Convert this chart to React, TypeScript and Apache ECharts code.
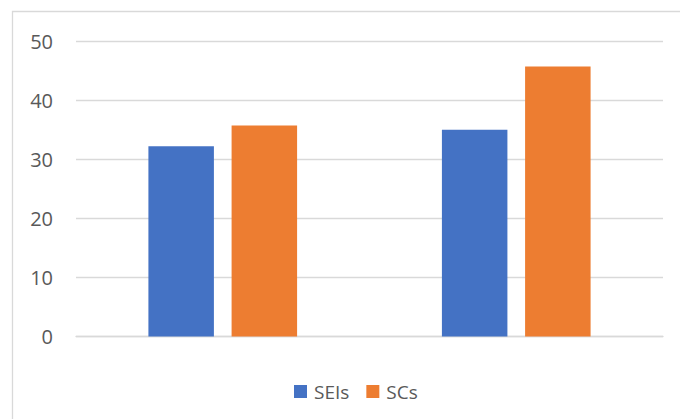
import React, { useEffect, useRef } from "react";
import * as echarts from "echarts";

const categories = ["Group 1", "Group 2"];
const seriesNames = ["SEIs", "SCs"];
const seisValues = [32.2, 35.0];
const scsValues = [35.7, 45.7];
const yTicks = { min: 0, max: 50, interval: 10 };

export default function App() {
  const ref = useRef<HTMLDivElement>(null);
  useEffect(() => {
    if (!ref.current) return;
    const chart = echarts.init(ref.current, undefined, { renderer: "svg" });
    const font = "'Open Sans', 'Noto Sans', sans-serif";
    chart.setOption({
      animation: false,
      backgroundColor: "#ffffff",
      graphic: [
        {
          type: "rect",
          shape: { x: 12.5, y: 11.5, width: 700, height: 450 },
          style: { fill: "none", stroke: "#d9d9d9", lineWidth: 1.3 },
          silent: true,
        },
      ],
      grid: { left: 76, right: 17, top: 41, bottom: 82.5 },
      legend: {
        data: seriesNames,
        left: 289,
        top: 377,
        itemWidth: 13,
        itemHeight: 13,
        itemGap: 17,
        icon: "rect",
        textStyle: { color: "#595959", fontSize: 19, fontFamily: font, padding: [0, 0, 0, 2] },
      },
      xAxis: {
        type: "category",
        data: categories,
        axisLine: { show: true, lineStyle: { color: "#d9d9d9", width: 1.3 } },
        axisTick: { show: false },
        axisLabel: { show: false },
      },
      yAxis: {
        type: "value",
        min: yTicks.min,
        max: yTicks.max,
        interval: yTicks.interval,
        axisLine: { show: false },
        axisTick: { show: false },
        splitLine: { lineStyle: { color: "#d9d9d9", width: 1.3 } },
        axisLabel: { color: "#595959", fontSize: 20, fontFamily: font, margin: 23 },
      },
      series: [
        {
          name: seriesNames[0],
          type: "bar",
          data: seisValues,
          barWidth: 65.5,
          barGap: "27%",
          itemStyle: { color: "#4472c4" },
        },
        {
          name: seriesNames[1],
          type: "bar",
          data: scsValues,
          barWidth: 65.5,
          itemStyle: { color: "#ed7d31" },
        },
      ],
    });
    return () => chart.dispose();
  }, []);
  return (
    <div
      ref={ref}
      style={{ position: "fixed", left: 0, top: 0, width: 680, height: 419 }}
    />
  );
}
